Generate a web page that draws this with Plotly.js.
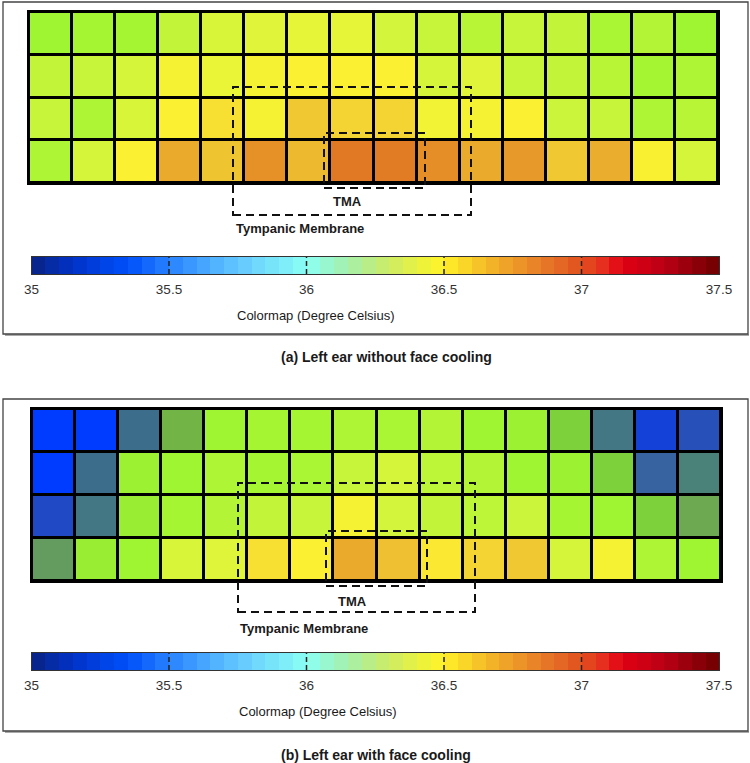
<!DOCTYPE html>
<html>
<head>
<meta charset="utf-8">
<script src="https://cdn.plot.ly/plotly-3.0.1.min.js"></script>
<style>
  html, body { margin: 0; padding: 0; background: #fff; }
  #chart { width: 750px; height: 763px; }
</style>
</head>
<body>
<div id="chart"></div>
<script>
// ---------- DATA ----------
const columnIds = [1, 2, 3, 4, 5, 6, 7, 8, 9, 10, 11, 12, 13, 14, 15, 16];
const rowIds = [1, 2, 3, 4];

// (a) Left ear without face cooling, degree Celsius (rows top -> bottom)
const tempNoCooling = [
  [36.20, 36.21, 36.21, 36.27, 36.33, 36.36, 36.38, 36.38, 36.31, 36.28, 36.25, 36.28, 36.27, 36.22, 36.24, 36.20],
  [36.27, 36.28, 36.32, 36.46, 36.40, 36.46, 36.50, 36.50, 36.50, 36.32, 36.36, 36.28, 36.27, 36.25, 36.21, 36.23],
  [36.28, 36.23, 36.33, 36.50, 36.54, 36.46, 36.60, 36.57, 36.57, 36.44, 36.46, 36.50, 36.29, 36.28, 36.23, 36.25],
  [36.23, 36.32, 36.50, 36.68, 36.61, 36.74, 36.64, 36.80, 36.79, 36.75, 36.68, 36.72, 36.60, 36.67, 36.49, 36.32]
];

// (b) Left ear with face cooling, degree Celsius (rows top -> bottom)
const tempWithCooling = [
  [35.45, 35.45, 35.85, 36.05, 36.20, 36.21, 36.21, 36.23, 36.22, 36.24, 36.20, 36.19, 36.10, 35.88, 35.60, 35.70],
  [35.45, 35.85, 36.19, 36.20, 36.23, 36.21, 36.22, 36.28, 36.32, 36.26, 36.24, 36.20, 36.19, 36.10, 35.80, 35.91],
  [35.66, 35.88, 36.18, 36.21, 36.24, 36.27, 36.28, 36.46, 36.31, 36.27, 36.26, 36.29, 36.21, 36.20, 36.10, 36.02],
  [35.98, 36.18, 36.20, 36.33, 36.35, 36.54, 36.50, 36.68, 36.62, 36.52, 36.57, 36.60, 36.32, 36.46, 36.23, 36.20]
];

// colour bar
const cbMin = 35, cbMax = 37.5;
const cbTickVals = [35, 35.5, 36, 36.5, 37, 37.5];
const cbTickText = ['35', '35.5', '36', '36.5', '37', '37.5'];
const cbLevels = [35.025, 35.075, 35.125, 35.175, 35.225, 35.275, 35.325, 35.375, 35.425, 35.475,
                  35.525, 35.575, 35.625, 35.675, 35.725, 35.775, 35.825, 35.875, 35.925, 35.975,
                  36.025, 36.075, 36.125, 36.175, 36.225, 36.275, 36.325, 36.375, 36.425, 36.475,
                  36.525, 36.575, 36.625, 36.675, 36.725, 36.775, 36.825, 36.875, 36.925, 36.975,
                  37.025, 37.075, 37.125, 37.175, 37.225, 37.275, 37.325, 37.375, 37.425, 37.475];

// colour stops (value, colour)
const barStops = [
  [35.00, 'rgb(10,35,130)'], [35.15, 'rgb(0,50,200)'], [35.35, 'rgb(0,80,250)'],
  [35.50, 'rgb(40,130,255)'], [35.75, 'rgb(100,200,255)'], [36.00, 'rgb(140,255,245)'],
  [36.15, 'rgb(165,240,170)'], [36.30, 'rgb(205,235,100)'], [36.45, 'rgb(245,245,50)'],
  [36.50, 'rgb(255,240,40)'], [36.70, 'rgb(240,170,40)'], [36.90, 'rgb(230,110,40)'],
  [37.00, 'rgb(225,80,30)'], [37.08, 'rgb(230,45,30)'], [37.15, 'rgb(225,0,20)'],
  [37.30, 'rgb(185,0,20)'], [37.50, 'rgb(110,0,0)']
];
const cellStops = [
  [35.00, 'rgb(0,30,150)'], [35.45, 'rgb(0,60,255)'], [35.60, 'rgb(20,65,215)'],
  [35.70, 'rgb(40,80,185)'], [35.80, 'rgb(55,100,160)'], [35.85, 'rgb(60,110,140)'],
  [35.90, 'rgb(70,125,125)'], [35.98, 'rgb(100,155,95)'], [36.05, 'rgb(115,180,70)'],
  [36.10, 'rgb(125,210,60)'], [36.20, 'rgb(160,245,50)'], [36.30, 'rgb(208,245,60)'],
  [36.40, 'rgb(235,245,55)'], [36.50, 'rgb(252,240,50)'], [36.60, 'rgb(240,200,50)'],
  [36.70, 'rgb(233,162,43)'], [36.80, 'rgb(225,120,35)'], [37.00, 'rgb(220,70,30)'],
  [37.15, 'rgb(220,0,20)'], [37.50, 'rgb(110,0,0)']
];

// ---------- LAYOUT HELPERS ----------
const W = 750, H = 763;
const fx = p => p / W;
const fy = p => 1 - p / H;
const norm = stops => stops.map(s => [(s[0] - cbMin) / (cbMax - cbMin), s[1]]);

const FONT = 'Liberation Sans, Arial, Helvetica, sans-serif';

function panel(z, xa, ya, cbx, cby) {
  return [
    {
      type: 'heatmap', z: z, x: columnIds, y: rowIds,
      xaxis: xa, yaxis: ya, zmin: cbMin, zmax: cbMax,
      colorscale: norm(cellStops), showscale: false,
      xgap: 3, ygap: 3, hoverinfo: 'x+y+z'
    },
    {
      type: 'heatmap', z: [cbLevels], x: cbLevels, y: [0],
      xaxis: cbx, yaxis: cby, zmin: cbMin, zmax: cbMax,
      colorscale: norm(barStops), showscale: false, hoverinfo: 'x'
    }
  ];
}

const data = [].concat(
  panel(tempNoCooling, 'x', 'y', 'x2', 'y2'),
  panel(tempWithCooling, 'x3', 'y3', 'x4', 'y4')
);

const gridX = { showticklabels: false, ticks: '', showgrid: false, zeroline: false,
  showline: true, mirror: true, linecolor: '#000', linewidth: 2,
  range: [0.5, 16.5], fixedrange: true };
const gridY = { showticklabels: false, ticks: '', showgrid: false, zeroline: false,
  showline: true, mirror: true, linecolor: '#000', linewidth: 2,
  range: [4.5, 0.5], fixedrange: true };
const barX = { range: [cbMin, cbMax], tickvals: cbTickVals, ticktext: cbTickText,
  ticks: '', showgrid: false, zeroline: false, showline: true, mirror: true,
  linecolor: '#333', linewidth: 1, ticklabelstandoff: 3,
  tickfont: { family: FONT, size: 13.5, color: '#333' }, fixedrange: true };
const barY = { range: [-0.5, 0.5], showticklabels: false, ticks: '', showgrid: false,
  zeroline: false, showline: true, mirror: true, linecolor: '#333', linewidth: 1, fixedrange: true };

function dashRect(x0, y0, x1, y1) {
  return { type: 'rect', xref: 'paper', yref: 'paper',
    x0: fx(x0), x1: fx(x1), y0: fy(y1), y1: fy(y0),
    line: { color: '#111', width: 2, dash: '8px,5px' }, fillcolor: 'rgba(0,0,0,0)', layer: 'above' };
}
function frame(x0, y0, x1, y1) {
  return [
    { type: 'line', xref: 'paper', yref: 'paper', x0: fx(x0 + 2), x1: fx(x1 + 1), y0: fy(y1 + 1), y1: fy(y1 + 1),
      line: { color: '#aaa', width: 2 } },
    { type: 'rect', xref: 'paper', yref: 'paper', x0: fx(x0), x1: fx(x1), y0: fy(y1), y1: fy(y0),
      line: { color: '#444', width: 1.3 }, fillcolor: 'rgba(0,0,0,0)' }
  ];
}
function barTicks(xref, yref) {
  return cbTickVals.slice(1, -1).map(v => ({
    type: 'line', xref: xref, yref: yref + ' domain', x0: v, x1: v, y0: 0, y1: 1,
    line: { color: '#222', width: 1.5, dash: '5px,3px' }, layer: 'above'
  }));
}
function label(text, x, y, size, xanchor) {
  return { text: text, xref: 'paper', yref: 'paper', x: fx(x), y: fy(y),
    xanchor: xanchor || 'center', yanchor: 'middle', showarrow: false,
    font: { family: FONT, size: size, color: '#1a1a1a' } };
}

const layout = {
  width: W, height: H,
  margin: { l: 0, r: 0, t: 0, b: 0 },
  paper_bgcolor: '#fff', plot_bgcolor: '#000',
  showlegend: false,
  xaxis:  Object.assign({}, gridX, { domain: [fx(29), fx(718)], anchor: 'y' }),
  yaxis:  Object.assign({}, gridY, { domain: [fy(183), fy(12)], anchor: 'x' }),
  xaxis2: Object.assign({}, barX,  { domain: [fx(31.5), fx(719)], anchor: 'y2' }),
  yaxis2: Object.assign({}, barY,  { domain: [fy(274), fy(257)], anchor: 'x2' }),
  xaxis3: Object.assign({}, gridX, { domain: [fx(32), fx(721)], anchor: 'y3' }),
  yaxis3: Object.assign({}, gridY, { domain: [fy(581), fy(409)], anchor: 'x3' }),
  xaxis4: Object.assign({}, barX,  { domain: [fx(31.5), fx(719)], anchor: 'y4' }),
  yaxis4: Object.assign({}, barY,  { domain: [fy(670), fy(653)], anchor: 'x4' }),
  shapes: [].concat(
    frame(3, 2, 748, 334),
    frame(3, 399, 748, 731),
    [dashRect(233, 87, 471, 215), dashRect(324, 133, 425, 188),
     dashRect(238, 483, 475, 612), dashRect(326, 531, 427, 586)],
    barTicks('x2', 'y2'),
    barTicks('x4', 'y4')
  ),
  annotations: [
    label('<b>TMA</b>', 347, 202, 13),
    label('<b>Tympanic Membrane</b>', 234, 228, 13, 'left'),
    label('Colormap (Degree Celsius)', 316, 315, 13),
    label('<b>(a) Left ear without face cooling</b>', 279, 357, 14, 'left'),
    label('<b>TMA</b>', 352, 601, 13),
    label('<b>Tympanic Membrane</b>', 238, 628, 13, 'left'),
    label('Colormap (Degree Celsius)', 318, 711, 13),
    label('<b>(b) Left ear with face cooling</b>', 279, 755, 14, 'left')
  ]
};

Plotly.newPlot('chart', data, layout, { displayModeBar: false, staticPlot: true });
</script>
</body>
</html>
